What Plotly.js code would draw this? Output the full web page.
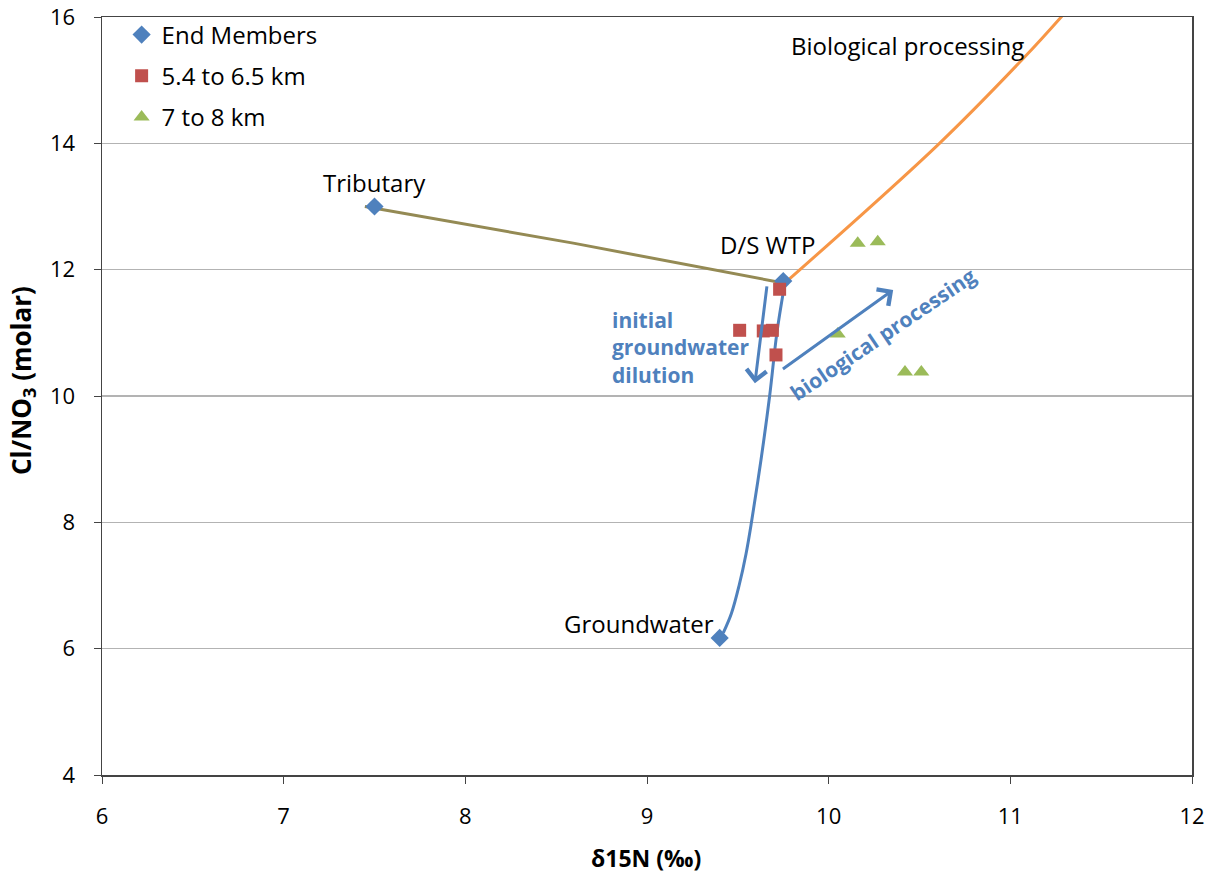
<!DOCTYPE html>
<html>
<head>
<meta charset="utf-8">
<script src="https://cdn.plot.ly/plotly-3.0.1.min.js"></script>
<style>html,body{margin:0;padding:0;background:#fff;}#chart{width:1222px;height:873px;}</style>
</head>
<body>
<div id="chart"></div>
<script>
// End members
const endNames = ["Tributary", "D/S WTP", "Groundwater"];
const endX = [7.50, 9.75, 9.40];
const endY = [13.00, 11.82, 6.17];

// 5.4 to 6.5 km
const nearX = [9.51, 9.64, 9.69, 9.73, 9.71];
const nearY = [11.04, 11.03, 11.04, 11.69, 10.65];

// 7 to 8 km
const farX = [10.16, 10.27, 10.05, 10.42, 10.51];
const farY = [12.42, 12.44, 10.98, 10.38, 10.38];

// Mixing line tributary -> D/S WTP
const tribLineX = [7.447, 8.594, 9.75];
const tribLineY = [13.00, 12.42, 11.79];

// Biological processing curve
const bioX = [9.775, 10.61, 11.08, 11.28, 11.31];
const bioY = [11.83, 14.00, 15.37, 16.00, 16.10];

// Groundwater mixing curve
const gwX = [9.42, 9.465, 9.507, 9.545, 9.575, 9.628, 9.675, 9.715, 9.755];
const gwY = [6.25, 6.56, 7.00, 7.50, 8.00, 9.00, 10.00, 11.00, 11.72];

// Arrows [tailX, tailY, headX, headY]
const dilutionArrow = [9.661, 11.76, 9.594, 10.20];
const bioArrow = [9.74, 10.41, 10.355, 11.68];

const font = "Open Sans, Noto Sans, sans-serif";
const blue = "#4F81BD";

const traces = [
  {x: tribLineX, y: tribLineY, mode: "lines", line: {color: "#948A54", width: 3}, showlegend: false, hoverinfo: "skip"},
  {x: bioX, y: bioY, mode: "lines", line: {color: "#F79646", width: 3, shape: "spline", smoothing: 1}, showlegend: false, hoverinfo: "skip"},
  {x: gwX, y: gwY, mode: "lines", line: {color: blue, width: 3, shape: "spline", smoothing: 1}, showlegend: false, hoverinfo: "skip"},
  {x: endX, y: endY, mode: "markers", name: "End Members", legendgroup: "a",
   marker: {symbol: "diamond", size: 14, color: blue}},
  {x: nearX, y: nearY, mode: "markers", name: "5.4 to 6.5 km", legendgroup: "b",
   marker: {symbol: "square", size: 13, color: "#C0504D"}},
  {x: farX, y: farY, mode: "markers", name: "7 to 8 km", legendgroup: "c",
   marker: {symbol: "triangle-up", size: 14, color: "#9BBB59"}}
];

const annotations = [
  {x: endX[0], y: endY[0], text: endNames[0], showarrow: false, xanchor: "center", yanchor: "bottom", yshift: 6, font: {size: 24, color: "#000", family: font}},
  {x: endX[1], y: endY[1], text: endNames[1], showarrow: false, xanchor: "right", yanchor: "bottom", xshift: 34, yshift: 18, font: {size: 24, color: "#000", family: font}},
  {x: endX[2], y: endY[2], text: endNames[2], showarrow: false, xanchor: "right", yanchor: "bottom", xshift: -4, yshift: -4, font: {size: 24, color: "#000", family: font}},
  {xref: "paper", yref: "paper", x: 0.739, y: 0.962, text: "Biological processing", showarrow: false, xanchor: "center", yanchor: "middle", font: {size: 24, color: "#000", family: font}},
  {x: 8.796, y: 10.76, text: "<b>initial<br>groundwater<br>dilution</b>", showarrow: false, align: "left", xanchor: "left", yanchor: "middle", font: {size: 21, color: blue, family: font}},
  {x: 10.3, y: 10.98, text: "<b>biological processing</b>", showarrow: false, textangle: -34, font: {size: 21, color: blue, family: font}},
  {x: dilutionArrow[2], y: dilutionArrow[3], ax: dilutionArrow[0], ay: dilutionArrow[1], axref: "x", ayref: "y", text: "", showarrow: true, arrowhead: 4, arrowsize: 1.3, arrowwidth: 3, arrowcolor: blue},
  {x: bioArrow[2], y: bioArrow[3], ax: bioArrow[0], ay: bioArrow[1], axref: "x", ayref: "y", text: "", showarrow: true, arrowhead: 4, arrowsize: 1.3, arrowwidth: 3, arrowcolor: blue},
  {xref: "paper", yref: "paper", x: -0.0734, y: 0.521, text: "<b>Cl/NO<sub>3</sub> (molar)</b>", textangle: -90, showarrow: false, xanchor: "center", yanchor: "middle", font: {size: 26, color: "#000", family: font}},
  {xref: "paper", yref: "paper", x: 0.4991, y: -0.1095, text: "<b>δ15N (‰)</b>", showarrow: false, xanchor: "center", yanchor: "middle", font: {size: 23, color: "#000", family: font}}
];

const layout = {
  width: 1222, height: 873,
  margin: {l: 102, r: 30, t: 17, b: 98},
  paper_bgcolor: "#fff", plot_bgcolor: "#fff",
  font: {family: font, color: "#000"},
  showlegend: true,
  legend: {x: 0.018, y: 1.006, xanchor: "left", yanchor: "top", font: {size: 24, family: font}, tracegroupgap: 7, bgcolor: "rgba(0,0,0,0)"},
  xaxis: {
    range: [6, 12], dtick: 1, tick0: 6, showgrid: false, zeroline: false,
    showline: true, linecolor: "#444", linewidth: 1.5, mirror: true,
    ticks: "outside", ticklen: 7, tickcolor: "#444", ticklabelstandoff: 14,
    tickfont: {size: 22, family: font}
  },
  yaxis: {
    range: [4, 16], dtick: 2, tick0: 4, showgrid: true, gridcolor: "#b3b3b3", gridwidth: 1.2, zeroline: false,
    showline: true, linecolor: "#444", linewidth: 1.5, mirror: true,
    ticks: "outside", ticklen: 7, tickcolor: "#444", ticklabelstandoff: 14,
    tickfont: {size: 22, family: font}
  },
  annotations: annotations
};

Plotly.newPlot("chart", traces, layout, {displayModeBar: false, staticPlot: true});
</script>
</body>
</html>
